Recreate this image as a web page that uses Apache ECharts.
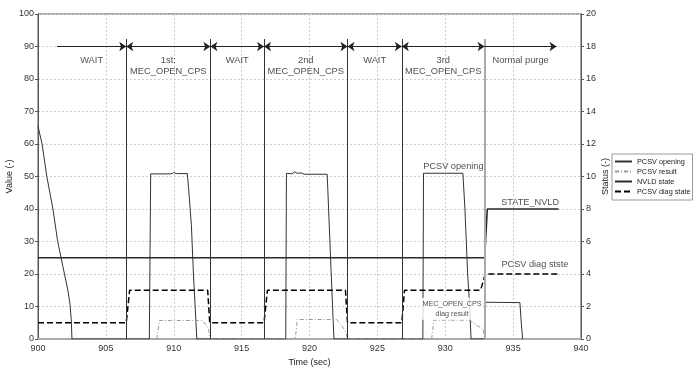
<!DOCTYPE html>
<html><head><meta charset="utf-8">
<script src="https://cdn.jsdelivr.net/npm/echarts@6/dist/echarts.min.js"></script>
<style>html,body{margin:0;padding:0;background:#fff}#c{width:700px;height:376px}</style>
</head><body><div id="c"></div>
<script>
// ---- data ----
const pcsvOpening = [[900,65.5],[900.3,60],[900.65,50],[901.1,40],[901.45,30],[901.7,25],[901.95,20],[902.2,15],[902.35,11],[902.45,6],[902.5,0],
  [908.2,0],[908.3,50.8],[909.8,50.8],[910.0,51.2],[910.2,50.9],[911.0,50.9],[911.1,46],[911.3,35],[911.45,20],[911.6,8],[911.7,0],
  [918.25,0],[918.3,51],[918.7,50.8],[918.9,51.4],[919.1,51],[919.4,51.1],[919.6,50.7],[921.3,50.7],[921.35,46],[921.55,25],[921.7,10],[921.8,0],
  [928.35,0],[928.4,51],[931.3,51],[931.45,40],[931.55,30],[931.65,20],[931.8,10],[931.9,0],
  [932.9,0],[932.95,11.3],[935.5,11.2],[935.6,5],[935.7,0]];
const pcsvResult = [[908.75,0],[908.95,5.7],[912.05,5.7],[912.3,4.8],[912.55,3.2],[912.7,0],
  [918.95,0],[919.1,6],[922.0,6],[922.3,4.5],[922.65,2.5],[922.8,0],
  [929.0,0],[929.15,5.8],[931.7,5.8],[932.0,5.2],[932.4,4],[932.8,3.2],[932.9,0]];
const nvldState = [[900,5],[932.9,5],[933.1,8],[938.35,8]];
const pcsvDiagState = [[900,1],[906.5,1],[906.75,3],[912.5,3],[912.65,1],[916.65,1],[916.9,3],[922.65,3],[922.8,1],
  [926.8,1],[927.0,3],[932.6,3],[932.95,4],[938.35,4]];
const phaseBoundaries = [906.5, 912.7, 916.65, 922.8, 926.8, 932.9];
const phaseArrowStart = 901.4, phaseArrowEnd = 938.2, arrowLevel = 90, boundaryTop = 92.3, phaseLabelLevel = 87.7;
const phaseNames = ['WAIT','1st:\nMEC_OPEN_CPS','WAIT','2nd\nMEC_OPEN_CPS','WAIT','3rd\nMEC_OPEN_CPS','Normal purge'];
const annotations = [['PCSV opening',930.6,53.2],['STATE_NVLD',936.25,42.1],['PCSV diag stste',936.6,22.8]];
const smallAnnotation = ['MEC_OPEN_CPS\ndiag result',930.5,9.3];
const legendNames = ['PCSV opening','PCSV result','NVLD state','PCSV diag state'];

// ---- chart ----
const FONT = 'Liberation Sans, Arial, sans-serif';
const segs = [phaseArrowStart, ...phaseBoundaries, phaseArrowEnd];
const arrowData = [];
const phaseLabelData = [];
for (let i = 0; i < segs.length - 1; i++) {
  const first = i === 0, last = i === segs.length - 2;
  arrowData.push([{coord:[segs[i],arrowLevel], symbol:(first||last)?'none':'arrow'},
                  {coord:[segs[i+1],arrowLevel], symbol:'arrow'}]);
  phaseLabelData.push([(segs[i]+segs[i+1])/2, phaseLabelLevel, phaseNames[i]]);
}
const boundaryData = phaseBoundaries.map((t,i) => {
  const ls = i === phaseBoundaries.length-1 ? {color:'#aaa', width:2, type:'solid'} : {color:'#333', width:1, type:'solid'};
  return [{coord:[t,0], lineStyle:ls},{coord:[t,boundaryTop], lineStyle:ls}];
});

const chart = echarts.init(document.getElementById('c'), null, {renderer:'canvas'});
const splitDash = {show:true, lineStyle:{color:'#cdcdcd', type:[2,2], width:1}};
const labelSeries = (data, label, z) => ({type:'scatter', yAxisIndex:0, data, encode:{x:1,y:2}, symbolSize:1,
  itemStyle:{color:'rgba(0,0,0,0)'}, silent:true, z, label:Object.assign({show:true, color:'#222', fontFamily:FONT, formatter:p=>p.data[0]}, label)});
chart.setOption({
  animation:false,
  textStyle:{fontFamily:FONT},
  grid:{left:38, right:119, top:14, bottom:37, show:true, borderColor:'#555', borderWidth:1, outerBoundsMode:'none', containLabel:false},
  legend:{data:legendNames, orient:'vertical', left:612, top:154, padding:[4,2,5,2], itemWidth:17, itemHeight:8, itemGap:3,
    itemStyle:{opacity:0},
    borderColor:'#999', borderWidth:1, textStyle:{fontSize:7.3, color:'#222', fontFamily:FONT}},
  xAxis:{type:'value', min:900, max:940, interval:5, name:'Time (sec)', nameLocation:'middle', nameGap:19, nameMoveOverlap:false,
    nameTextStyle:{fontSize:9, color:'#222', fontFamily:FONT},
    axisLine:{lineStyle:{color:'#aaa', width:2}}, axisTick:{show:false},
    axisLabel:{fontSize:9, color:'#333', margin:5, fontFamily:FONT}, splitLine:splitDash},
  yAxis:[
    {type:'value', min:0, max:100, interval:10, name:'Value (-)', nameLocation:'middle', nameGap:24, nameMoveOverlap:false,
      nameTextStyle:{fontSize:9, color:'#222', fontFamily:FONT},
      axisLine:{show:true, lineStyle:{color:'#555', width:1}}, axisTick:{show:true, length:3, lineStyle:{color:'#555'}},
      axisLabel:{fontSize:9, color:'#333', margin:4, fontFamily:FONT}, splitLine:splitDash},
    {type:'value', min:0, max:20, interval:2, position:'right', name:'Status (-)', nameLocation:'middle', nameGap:20, nameMoveOverlap:false,
      nameTextStyle:{fontSize:9, color:'#222', fontFamily:FONT},
      axisLine:{show:true, lineStyle:{color:'#555', width:1}}, axisTick:{show:true, length:3, lineStyle:{color:'#555'}},
      axisLabel:{fontSize:9, color:'#333', margin:5, fontFamily:FONT}, splitLine:{show:false}}
  ],
  series:[
    {name:'PCSV opening', type:'line', yAxisIndex:0, data:pcsvOpening, symbol:'none', lineStyle:{color:'#333', width:1}, itemStyle:{color:'#333'}, z:3},
    {name:'PCSV result', type:'line', yAxisIndex:0, data:pcsvResult, symbol:'none', lineStyle:{color:'#999', width:1, type:[4,2,1,2]}, itemStyle:{color:'#999'}, z:3},
    {name:'NVLD state', type:'line', yAxisIndex:1, data:nvldState, symbol:'none', lineStyle:{color:'#2a2a2a', width:1.6}, itemStyle:{color:'#2a2a2a'}, z:4},
    {name:'PCSV diag state', type:'line', yAxisIndex:1, data:pcsvDiagState, symbol:'none', lineStyle:{color:'#000', width:1.5, type:[6,3]}, itemStyle:{color:'#000'}, z:4},
    {type:'line', yAxisIndex:0, data:[], symbol:'none', silent:true, z:2,
      markLine:{silent:true, animation:false, symbol:'none', label:{show:false}, data:boundaryData}},
    {type:'line', yAxisIndex:0, data:[], symbol:'none', silent:true, z:2,
      markLine:{silent:true, animation:false, symbolSize:7, label:{show:false}, lineStyle:{color:'#222', width:1, type:'solid'}, data:arrowData}},
    {type:'scatter', yAxisIndex:0, data:phaseLabelData, symbolSize:1, itemStyle:{color:'rgba(0,0,0,0)'}, silent:true, z:6,
      label:{show:true, position:'bottom', distance:0, formatter:p=>p.data[2], fontSize:9.3, lineHeight:11, color:'#222', fontFamily:FONT, align:'center'}},
    labelSeries(annotations, {position:'inside', fontSize:9.2}, 6),
    labelSeries([smallAnnotation], {position:'inside', fontSize:7.2, lineHeight:10, backgroundColor:'#fff', padding:[1,1]}, 10)
  ]
});
</script></body></html>
